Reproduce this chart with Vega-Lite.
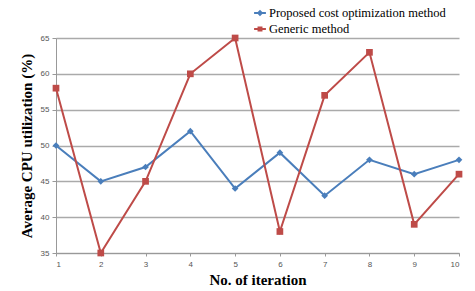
{
  "$schema": "https://vega.github.io/schema/vega-lite/v6.json",
  "width": 403,
  "height": 215,
  "autosize": {"type": "none"},
  "padding": {"left": 56, "top": 38, "right": 16, "bottom": 38},
  "background": "white",
  "data": {"values": [
    {"iter": 1, "value": 50, "series": "Proposed cost optimization method"},
    {"iter": 2, "value": 45, "series": "Proposed cost optimization method"},
    {"iter": 3, "value": 47, "series": "Proposed cost optimization method"},
    {"iter": 4, "value": 52, "series": "Proposed cost optimization method"},
    {"iter": 5, "value": 44, "series": "Proposed cost optimization method"},
    {"iter": 6, "value": 49, "series": "Proposed cost optimization method"},
    {"iter": 7, "value": 43, "series": "Proposed cost optimization method"},
    {"iter": 8, "value": 48, "series": "Proposed cost optimization method"},
    {"iter": 9, "value": 46, "series": "Proposed cost optimization method"},
    {"iter": 10, "value": 48, "series": "Proposed cost optimization method"},
    {"iter": 1, "value": 58, "series": "Generic method"},
    {"iter": 2, "value": 35, "series": "Generic method"},
    {"iter": 3, "value": 45, "series": "Generic method"},
    {"iter": 4, "value": 60, "series": "Generic method"},
    {"iter": 5, "value": 65, "series": "Generic method"},
    {"iter": 6, "value": 38, "series": "Generic method"},
    {"iter": 7, "value": 57, "series": "Generic method"},
    {"iter": 8, "value": 63, "series": "Generic method"},
    {"iter": 9, "value": 39, "series": "Generic method"},
    {"iter": 10, "value": 46, "series": "Generic method"}
  ]},
  "encoding": {
    "x": {"field": "iter", "type": "quantitative",
      "scale": {"domain": [1, 10], "nice": false, "zero": false},
      "axis": {"values": [1,2,3,4,5,6,7,8,9,10], "grid": false, "title": "No. of iteration",
        "titleFont": "Liberation Serif", "titleFontSize": 15, "titleFontWeight": "bold", "titleColor": "black",
        "titlePadding": 4, "labelFont": "Liberation Sans", "labelFontSize": 8, "labelColor": "#555",
        "domainColor": "#999", "tickColor": "#999", "tickSize": 3, "labelPadding": 4}},
    "y": {"field": "value", "type": "quantitative",
      "scale": {"domain": [35, 65], "nice": false, "zero": false},
      "axis": {"values": [35,40,45,50,55,60,65], "grid": true, "gridColor": "#aaaaaa", "gridWidth": 1.5,
        "title": "Average CPU utilization (%)",
        "titleFont": "Liberation Serif", "titleFontSize": 15, "titleFontWeight": "bold", "titleColor": "black",
        "titlePadding": 6, "labelFont": "Liberation Sans", "labelFontSize": 8, "labelColor": "#555",
        "domainColor": "#999", "tickColor": "#999", "tickSize": 4, "labelPadding": 3}},
    "color": {"field": "series", "type": "nominal",
      "scale": {"domain": ["Proposed cost optimization method", "Generic method"], "range": ["#4a7ebb", "#be4b48"]},
      "legend": {"orient": "none", "legendX": 197, "legendY": -32, "title": null,
        "labelFont": "Liberation Serif", "labelFontSize": 12.5, "labelColor": "black", "labelLimit": 400,
        "symbolSize": 140, "rowPadding": 2, "labelOffset": 2, "symbolStrokeWidth": 2,
        "encode": {"symbols": {"update": {
          "stroke": {"scale": "color", "field": "value"},
          "fill": {"scale": "color", "field": "value"},
          "shape": {"signal": "datum.value === 'Generic method' ? 'M-1,0H-0.25V-0.25H0.25V0H1M0.25,0V0.25H-0.25V0Z' : 'M-1,0H-0.3L0,-0.3L0.3,0H1M0.3,0L0,0.3L-0.3,0Z'"}
        }}}}}
  },
  "layer": [
    {"mark": {"type": "line", "strokeWidth": 2}},
    {"transform": [{"filter": "datum.series === 'Proposed cost optimization method'"}],
     "mark": {"type": "point", "shape": "diamond", "filled": true, "opacity": 1, "size": 45}},
    {"transform": [{"filter": "datum.series === 'Generic method'"}],
     "mark": {"type": "point", "shape": "square", "filled": true, "opacity": 1, "size": 45}}
  ],
  "config": {"view": {"stroke": null}}
}
